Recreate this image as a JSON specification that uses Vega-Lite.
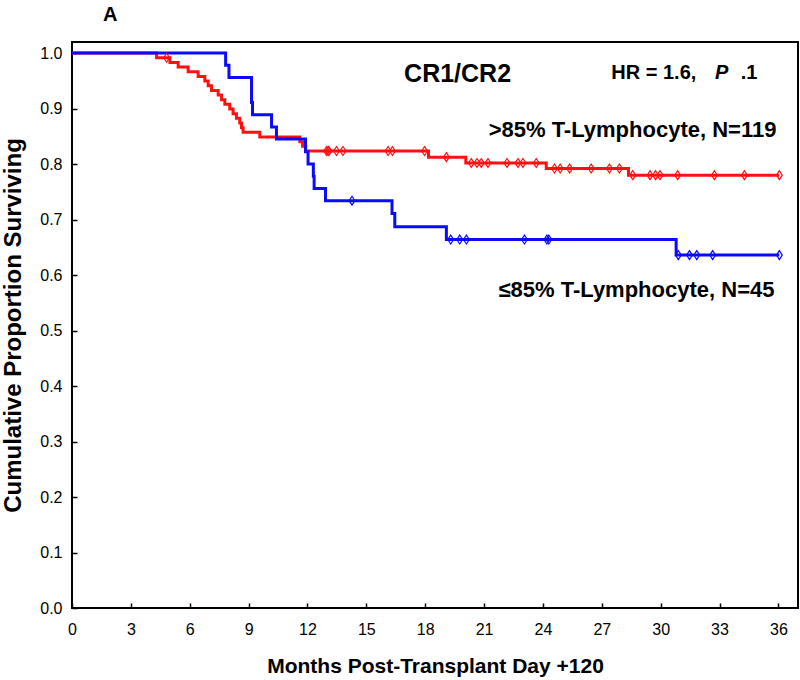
{
  "$schema": "https://vega.github.io/schema/vega-lite/v6.json",
  "width": 726,
  "height": 566,
  "autosize": {"type": "none"},
  "padding": {"left": 72, "top": 42, "right": 2, "bottom": 72},
  "background": "white",
  "config": {
    "font": "Liberation Sans, Arial, sans-serif",
    "view": {"stroke": "#000000", "strokeWidth": 2},
    "axis": {
      "grid": false,
      "domain": false,
      "tickColor": "#000000",
      "tickWidth": 1.5,
      "tickSize": -5,
      "labelColor": "#000000",
      "labelFontSize": 16,
      "labelFont": "Liberation Sans, Arial, sans-serif",
      "titleColor": "#000000",
      "titleFont": "Liberation Sans, Arial, sans-serif",
      "titleFontWeight": "bold"
    }
  },
  "datasets": {
    "curve": [
      {"group": ">85%", "month": 0, "survival": 1.0},
      {"group": ">85%", "month": 4.31, "survival": 0.9916},
      {"group": ">85%", "month": 4.99, "survival": 0.9832},
      {"group": ">85%", "month": 5.41, "survival": 0.9748},
      {"group": ">85%", "month": 5.92, "survival": 0.9664},
      {"group": ">85%", "month": 6.43, "survival": 0.958},
      {"group": ">85%", "month": 6.77, "survival": 0.9496},
      {"group": ">85%", "month": 6.94, "survival": 0.9412},
      {"group": ">85%", "month": 7.11, "survival": 0.9328},
      {"group": ">85%", "month": 7.45, "survival": 0.9244},
      {"group": ">85%", "month": 7.62, "survival": 0.916},
      {"group": ">85%", "month": 7.79, "survival": 0.9076},
      {"group": ">85%", "month": 8.04, "survival": 0.8992},
      {"group": ">85%", "month": 8.21, "survival": 0.8908},
      {"group": ">85%", "month": 8.38, "survival": 0.8824},
      {"group": ">85%", "month": 8.55, "survival": 0.874},
      {"group": ">85%", "month": 8.64, "survival": 0.8656},
      {"group": ">85%", "month": 8.72, "survival": 0.8572},
      {"group": ">85%", "month": 9.57, "survival": 0.8488},
      {"group": ">85%", "month": 11.61, "survival": 0.8404},
      {"group": ">85%", "month": 11.75, "survival": 0.832},
      {"group": ">85%", "month": 11.91, "survival": 0.8236},
      {"group": ">85%", "month": 18.17, "survival": 0.8125},
      {"group": ">85%", "month": 20.07, "survival": 0.802},
      {"group": ">85%", "month": 24.17, "survival": 0.792},
      {"group": ">85%", "month": 28.36, "survival": 0.78},
      {"group": ">85%", "month": 36.05, "survival": 0.78},
      {"group": "≤85%", "month": 0, "survival": 1.0},
      {"group": "≤85%", "month": 7.83, "survival": 0.978},
      {"group": "≤85%", "month": 8.0, "survival": 0.956},
      {"group": "≤85%", "month": 9.15, "survival": 0.911},
      {"group": "≤85%", "month": 9.2, "survival": 0.889},
      {"group": "≤85%", "month": 10.17, "survival": 0.867},
      {"group": "≤85%", "month": 10.42, "survival": 0.845},
      {"group": "≤85%", "month": 11.9, "survival": 0.822},
      {"group": "≤85%", "month": 12.03, "survival": 0.8},
      {"group": "≤85%", "month": 12.3, "survival": 0.778},
      {"group": "≤85%", "month": 12.34, "survival": 0.756},
      {"group": "≤85%", "month": 12.92, "survival": 0.734},
      {"group": "≤85%", "month": 16.31, "survival": 0.711},
      {"group": "≤85%", "month": 16.45, "survival": 0.687},
      {"group": "≤85%", "month": 19.08, "survival": 0.664},
      {"group": "≤85%", "month": 30.79, "survival": 0.636},
      {"group": "≤85%", "month": 36.05, "survival": 0.636}
    ],
    "censor": [
      {"group": ">85%", "month": 4.82, "survival": 0.9916},
      {"group": ">85%", "month": 12.97, "survival": 0.8236},
      {"group": ">85%", "month": 13.05, "survival": 0.8236},
      {"group": ">85%", "month": 13.1, "survival": 0.8236},
      {"group": ">85%", "month": 13.48, "survival": 0.8236},
      {"group": ">85%", "month": 13.81, "survival": 0.8236},
      {"group": ">85%", "month": 16.11, "survival": 0.8236},
      {"group": ">85%", "month": 16.33, "survival": 0.8236},
      {"group": ">85%", "month": 17.97, "survival": 0.8236},
      {"group": ">85%", "month": 19.08, "survival": 0.8125},
      {"group": ">85%", "month": 20.35, "survival": 0.802},
      {"group": ">85%", "month": 20.64, "survival": 0.802},
      {"group": ">85%", "month": 20.86, "survival": 0.802},
      {"group": ">85%", "month": 21.2, "survival": 0.802},
      {"group": ">85%", "month": 22.17, "survival": 0.802},
      {"group": ">85%", "month": 22.73, "survival": 0.802},
      {"group": ">85%", "month": 22.98, "survival": 0.802},
      {"group": ">85%", "month": 23.66, "survival": 0.802},
      {"group": ">85%", "month": 24.59, "survival": 0.792},
      {"group": ">85%", "month": 24.88, "survival": 0.792},
      {"group": ">85%", "month": 25.36, "survival": 0.792},
      {"group": ">85%", "month": 26.46, "survival": 0.792},
      {"group": ">85%", "month": 27.39, "survival": 0.792},
      {"group": ">85%", "month": 27.9, "survival": 0.792},
      {"group": ">85%", "month": 28.58, "survival": 0.78},
      {"group": ">85%", "month": 29.46, "survival": 0.78},
      {"group": ">85%", "month": 29.74, "survival": 0.78},
      {"group": ">85%", "month": 29.97, "survival": 0.78},
      {"group": ">85%", "month": 30.87, "survival": 0.78},
      {"group": ">85%", "month": 32.74, "survival": 0.78},
      {"group": ">85%", "month": 34.27, "survival": 0.78},
      {"group": ">85%", "month": 36.05, "survival": 0.78},
      {"group": "≤85%", "month": 14.27, "survival": 0.734},
      {"group": "≤85%", "month": 19.3, "survival": 0.664},
      {"group": "≤85%", "month": 19.76, "survival": 0.664},
      {"group": "≤85%", "month": 20.1, "survival": 0.664},
      {"group": "≤85%", "month": 23.06, "survival": 0.664},
      {"group": "≤85%", "month": 24.2, "survival": 0.664},
      {"group": "≤85%", "month": 24.3, "survival": 0.664},
      {"group": "≤85%", "month": 30.9, "survival": 0.636},
      {"group": "≤85%", "month": 31.47, "survival": 0.636},
      {"group": "≤85%", "month": 31.84, "survival": 0.636},
      {"group": "≤85%", "month": 32.65, "survival": 0.636},
      {"group": "≤85%", "month": 36.05, "survival": 0.636}
    ]
  },
  "layer": [
    {
      "data": {"name": "curve"},
      "mark": {"type": "line", "interpolate": "step-after", "strokeWidth": 3},
      "encoding": {
        "x": {
          "field": "month",
          "type": "quantitative",
          "scale": {"domain": [0, 37], "nice": false, "zero": false},
          "axis": {
            "title": "Months Post-Transplant Day +120",
            "titleFontSize": 21,
            "values": [0, 3, 6, 9, 12, 15, 18, 21, 24, 27, 30, 33, 36],
            "format": "d",
            "labelPadding": 18,
            "titlePadding": 18,
            "labelFlush": false
          }
        },
        "y": {
          "field": "survival",
          "type": "quantitative",
          "scale": {"domain": [0, 1.02], "nice": false, "zero": false},
          "axis": {
            "title": "Cumulative Proportion Surviving",
            "titleFontSize": 24,
            "values": [0, 0.1, 0.2, 0.3, 0.4, 0.5, 0.6, 0.7, 0.8, 0.9, 1.0],
            "format": ".1f",
            "labelPadding": 15,
            "titlePadding": 14,
            "labelFlush": false
          }
        },
        "color": {
          "field": "group",
          "type": "nominal",
          "scale": {"domain": [">85%", "≤85%"], "range": ["#ff1010", "#0a0aff"]},
          "legend": null
        }
      }
    },
    {
      "data": {"name": "censor"},
      "mark": {"type": "point", "shape": "M0,-1L0.65,0L0,1L-0.65,0Z", "filled": false, "size": 80, "strokeWidth": 1.2, "opacity": 1},
      "encoding": {
        "x": {"field": "month", "type": "quantitative"},
        "y": {"field": "survival", "type": "quantitative"},
        "color": {"field": "group", "type": "nominal", "legend": null}
      }
    },
    {
      "data": {"values": [{}]},
      "mark": {"type": "text", "text": "A", "fontSize": 20, "fontWeight": "bold", "align": "left", "baseline": "alphabetic", "color": "#000000"},
      "encoding": {"x": {"datum": 1.58}, "y": {"datum": 1.057}}
    },
    {
      "data": {"values": [{}]},
      "mark": {"type": "text", "text": "CR1/CR2", "fontSize": 25, "fontWeight": "bold", "align": "center", "baseline": "alphabetic", "color": "#000000"},
      "encoding": {"x": {"datum": 19.65}, "y": {"datum": 0.948}}
    },
    {
      "data": {"values": [{}]},
      "mark": {"type": "text", "text": "HR = 1.6,", "fontSize": 20, "fontWeight": "bold", "align": "right", "baseline": "alphabetic", "color": "#000000"},
      "encoding": {"x": {"datum": 31.82}, "y": {"datum": 0.9536}}
    },
    {
      "data": {"values": [{}]},
      "mark": {"type": "text", "text": "P", "fontSize": 20, "fontWeight": "bold", "fontStyle": "italic", "align": "right", "baseline": "alphabetic", "color": "#000000"},
      "encoding": {"x": {"datum": 33.45}, "y": {"datum": 0.9536}}
    },
    {
      "data": {"values": [{}]},
      "mark": {"type": "text", "text": ".1", "fontSize": 20, "fontWeight": "bold", "align": "right", "baseline": "alphabetic", "color": "#000000"},
      "encoding": {"x": {"datum": 34.93}, "y": {"datum": 0.9536}}
    },
    {
      "data": {"values": [{}]},
      "mark": {"type": "text", "text": ">85% T-Lymphocyte, N=119", "fontSize": 22, "fontWeight": "bold", "align": "right", "baseline": "alphabetic", "color": "#000000"},
      "encoding": {"x": {"datum": 35.9}, "y": {"datum": 0.8496}}
    },
    {
      "data": {"values": [{}]},
      "mark": {"type": "text", "text": "≤85% T-Lymphocyte, N=45", "fontSize": 22, "fontWeight": "bold", "align": "right", "baseline": "alphabetic", "color": "#000000"},
      "encoding": {"x": {"datum": 35.8}, "y": {"datum": 0.561}}
    }
  ]
}
